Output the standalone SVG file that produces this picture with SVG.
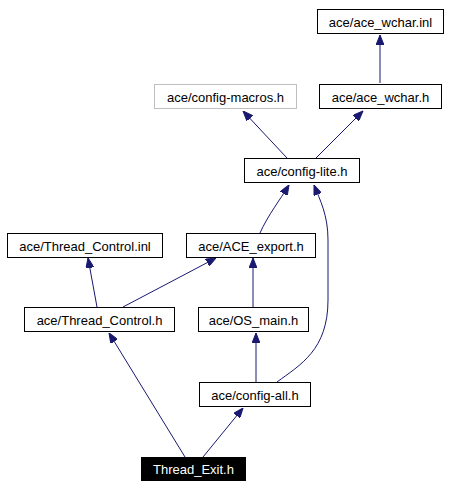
<svg xmlns="http://www.w3.org/2000/svg" width="451" height="488" viewBox="0 0 451 488">
<style>
.n rect{fill:#fff;stroke:#000;stroke-width:1}
.n text{font-family:"Liberation Sans",Arial,sans-serif;font-size:13px;fill:#000;text-anchor:middle}
.g rect{stroke:#bfbfbf}
.r rect{fill:#000}
.r text{fill:#fff}
.e path{fill:none;stroke:#191970;stroke-width:1;marker-end:url(#ah)}
</style>
<defs>
<marker id="ah" viewBox="0 0 10 8" refX="10" refY="4" markerWidth="10" markerHeight="8" markerUnits="userSpaceOnUse" orient="auto">
<path d="M0,0 L10,4 L0,8 Z" fill="#191970" stroke="#191970"/>
</marker>
</defs>
<rect width="451" height="488" fill="#fff"/>
<g id="edges" class="e">
<path d="M380,83 L380,35"/>
<path d="M287,158 L243,111"/>
<path d="M316,158 L363,111"/>
<path d="M260,233 C268,215 280,200 289,185"/>
<path d="M277,382 C300,365 328,350 328,300 L328,240 C328,215 320,200 314,185"/>
<path d="M97,307 L88,258"/>
<path d="M123,307 L216,258"/>
<path d="M253,307 L253,258"/>
<path d="M256,382 L256,333"/>
<path d="M185,457 L109,333"/>
<path d="M203,457 L243,408"/>
</g>
<g id="ace_wchar_inl" class="n"><rect x="317.5" y="9.5" width="126" height="24"/><text x="380.5" y="27">ace/ace_wchar.inl</text></g>
<g id="config_macros" class="n g"><rect x="154.5" y="84.5" width="142" height="24"/><text x="225.5" y="102">ace/config-macros.h</text></g>
<g id="ace_wchar_h" class="n"><rect x="319.5" y="84.5" width="122" height="24"/><text x="380.5" y="102">ace/ace_wchar.h</text></g>
<g id="config_lite" class="n"><rect x="244.5" y="158.5" width="115" height="24"/><text x="302" y="176">ace/config-lite.h</text></g>
<g id="thread_control_inl" class="n"><rect x="7.5" y="233.5" width="155" height="24"/><text x="85" y="251">ace/Thread_Control.inl</text></g>
<g id="ace_export" class="n"><rect x="186.5" y="233.5" width="129" height="24"/><text x="251" y="251">ace/ACE_export.h</text></g>
<g id="thread_control_h" class="n"><rect x="24.5" y="307.5" width="150" height="24"/><text x="99.5" y="325">ace/Thread_Control.h</text></g>
<g id="os_main" class="n"><rect x="198.5" y="307.5" width="110" height="24"/><text x="253.5" y="325">ace/OS_main.h</text></g>
<g id="config_all" class="n"><rect x="199.5" y="382.5" width="111" height="24"/><text x="255" y="400">ace/config-all.h</text></g>
<g id="thread_exit" class="n r"><rect x="141.5" y="457.5" width="104" height="23"/><text x="193.5" y="474">Thread_Exit.h</text></g>
</svg>
